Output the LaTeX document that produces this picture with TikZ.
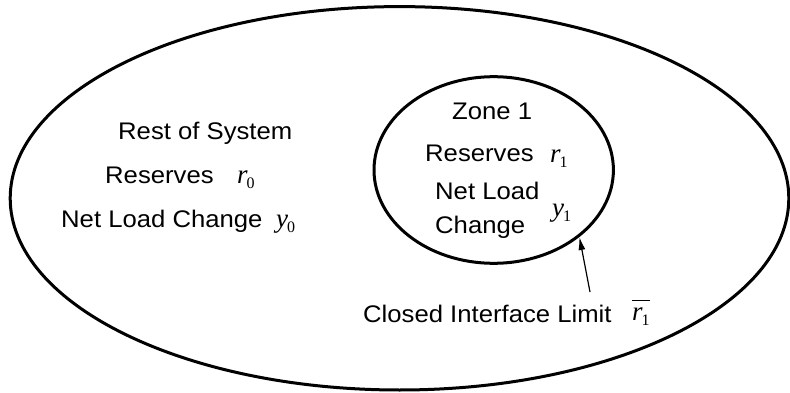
\documentclass[tikz,border=0pt]{standalone}
\usepackage{fontspec}
\setmainfont{Liberation Sans}[FakeStretch=1.07]
\newfontfamily\tms{Liberation Serif}
\usetikzlibrary{shapes.geometric,arrows.meta}
\newcommand\myvar[2]{{\tms\fontsize{27}{30}\selectfont\itshape #1}\kern-1pt\raisebox{-5pt}{\tms\fontsize{16}{18}\selectfont #2}}
\newcommand\mybarvar[2]{\leavevmode\setbox0\hbox{\myvar{#1}{#2}}\rlap{\raisebox{19pt}{\rule{\wd0}{1.4pt}}}\box0}
\tikzset{
  region/.style={ellipse, draw, line width=3pt, inner sep=0pt},
  lbl/.style={anchor=base west, inner sep=0pt, font=\fontsize{24}{29}\selectfont},
  sym/.style={anchor=base west, inner sep=0pt},
  pointer/.style={line width=1.2pt, -{Latex[length=13pt,width=7pt]}}
}
\begin{document}
\begin{tikzpicture}[x=1pt,y=-1pt]
\useasboundingbox (0,0) rectangle (790,393);
\node[region, minimum width=778.6pt, minimum height=383.4pt] (sys) at (399.5,198.3) {};
\node[region, minimum width=239.4pt, minimum height=186.6pt] (zone) at (493.7,170) {};
% rest of system
\node[lbl] (rest) at (118,140) {Rest of System};
\node[lbl] (res0) at (105,183) {Reserves};
\node[sym] (r0) at (237,183) {\myvar{r}{0}};
\node[lbl] (nlc0) at (61,227) {Net Load Change};
\node[sym] (y0) at (276,227) {\myvar{y}{0}};
% zone 1
\node[lbl] (z1) at (452,120) {Zone 1};
\node[lbl] (res1) at (425,162) {Reserves};
\node[sym] (r1) at (550,163) {\myvar{r}{1}};
\node[lbl] (nl1) at (435,200) {Net Load};
\node[lbl] (ch1) at (435,233) {Change};
\node[sym] (y1) at (552,216) {\myvar{y}{1}};
% interface
\node[lbl] (cil) at (363,322) {Closed Interface Limit};
\node[sym] (rb1) at (632,320) {\mybarvar{r}{1}};
\coordinate (tail) at (590,292);
\draw[pointer] (tail) -- (zone.-38);
\end{tikzpicture}
\end{document}
